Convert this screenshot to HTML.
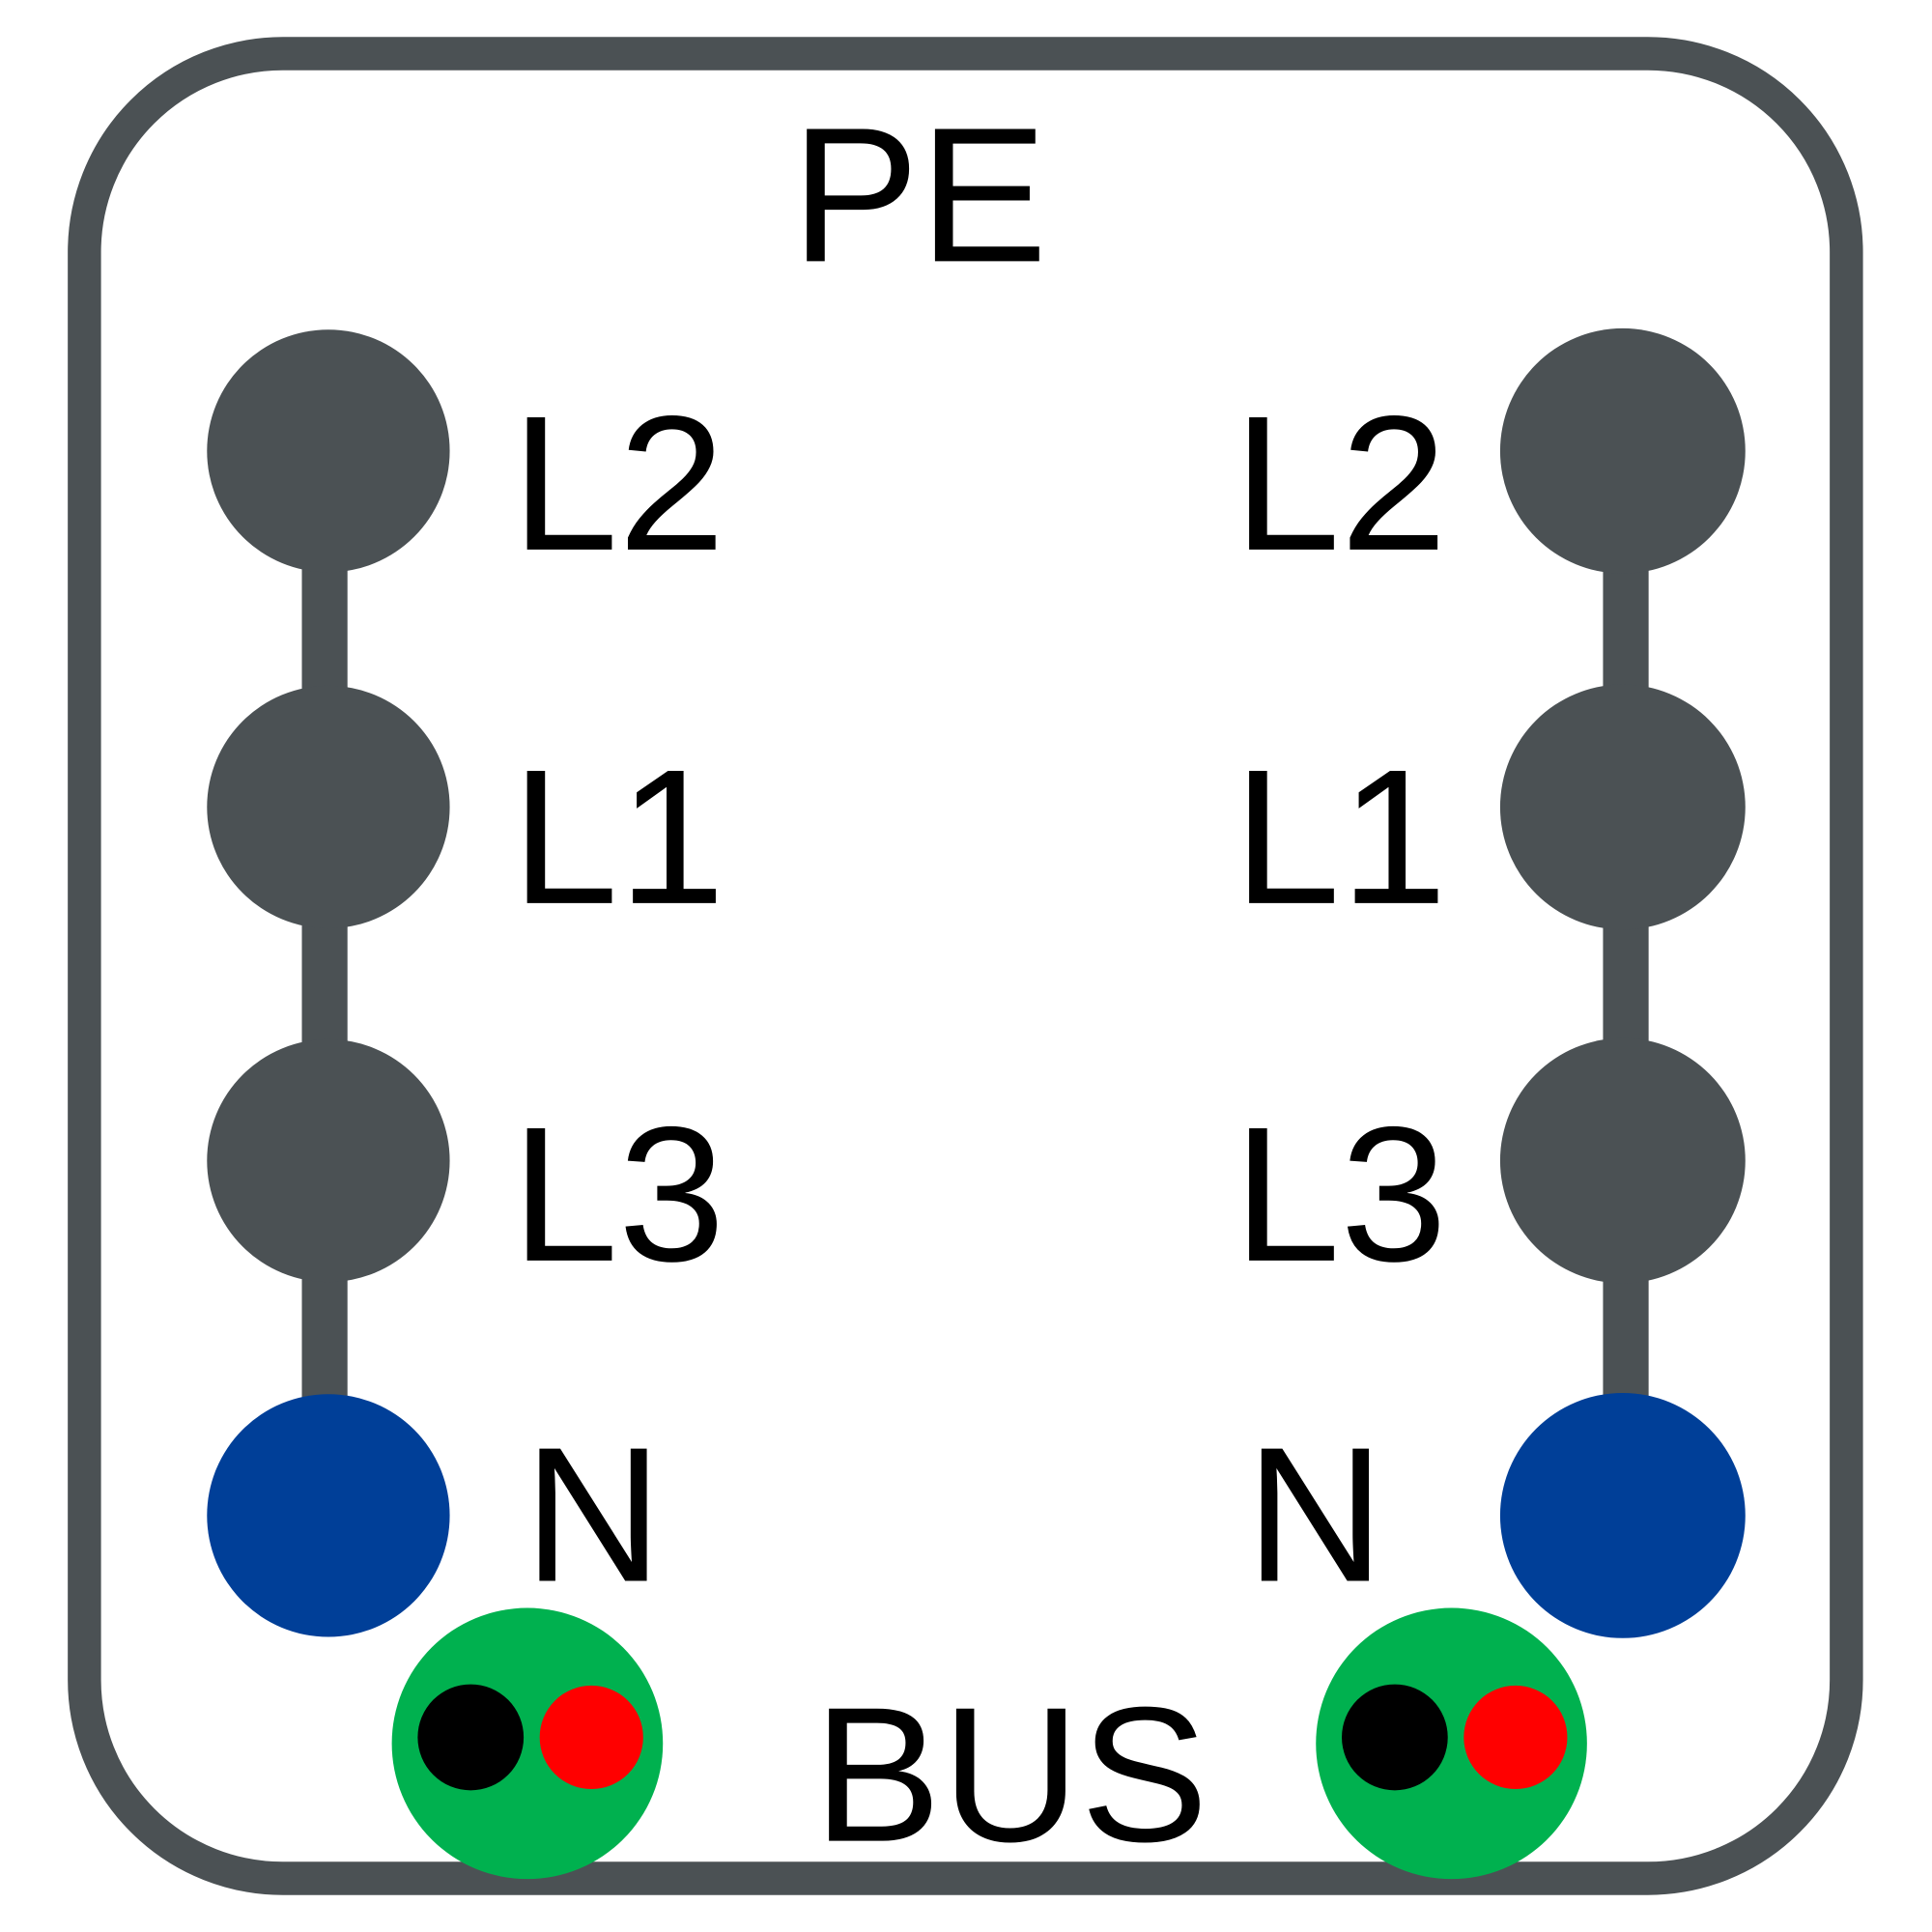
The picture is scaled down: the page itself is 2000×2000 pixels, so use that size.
<!DOCTYPE html>
<html><head><meta charset="utf-8"><style>
html,body{margin:0;padding:0;background:#fff}
svg{display:block}
text{font-family:"Liberation Sans",Arial,sans-serif;fill:#000}
</style></head><body>
<svg width="2000" height="2000" viewBox="0 0 1568 1568" xmlns="http://www.w3.org/2000/svg">
<rect x="0" y="0" width="1568" height="1568" fill="#fff"/>
<rect x="68.5" y="43.5" width="1430" height="1481" rx="161" ry="161" fill="none" stroke="#4b5154" stroke-width="27"/>
<rect x="245" y="366" width="37" height="864" fill="#4b5154"/>
<rect x="1301" y="366" width="37" height="864" fill="#4b5154"/>
<g fill="#4b5154">
<circle cx="266.5" cy="366" r="98.5"/><circle cx="266.5" cy="655" r="98.5"/><circle cx="266.5" cy="942" r="98.5"/>
<circle cx="1317" cy="366" r="99.5"/><circle cx="1317" cy="655" r="99.5"/><circle cx="1317" cy="942" r="99.5"/>
</g>
<circle cx="266.5" cy="1230" r="98.5" fill="#003f98"/>
<circle cx="1317" cy="1230" r="99.5" fill="#003f98"/>
<circle cx="428" cy="1415" r="110" fill="#00b14f"/>
<circle cx="1178" cy="1415" r="110" fill="#00b14f"/>
<circle cx="382" cy="1410" r="43" fill="#000"/>
<circle cx="480" cy="1410" r="42" fill="#f00"/>
<circle cx="1132" cy="1410" r="43" fill="#000"/>
<circle cx="1230" cy="1410" r="42" fill="#f00"/>
<g font-size="156">
<text x="642" y="212">PE</text>
<text x="415" y="446">L2</text><text x="415" y="733">L1</text><text x="415" y="1023">L3</text><text x="425" y="1283">N</text>
<text x="1001" y="446">L2</text><text x="1001" y="733">L1</text><text x="1001" y="1023">L3</text><text x="1011" y="1283">N</text>
<text x="660" y="1494">BUS</text>
</g>
</svg>
</body></html>
